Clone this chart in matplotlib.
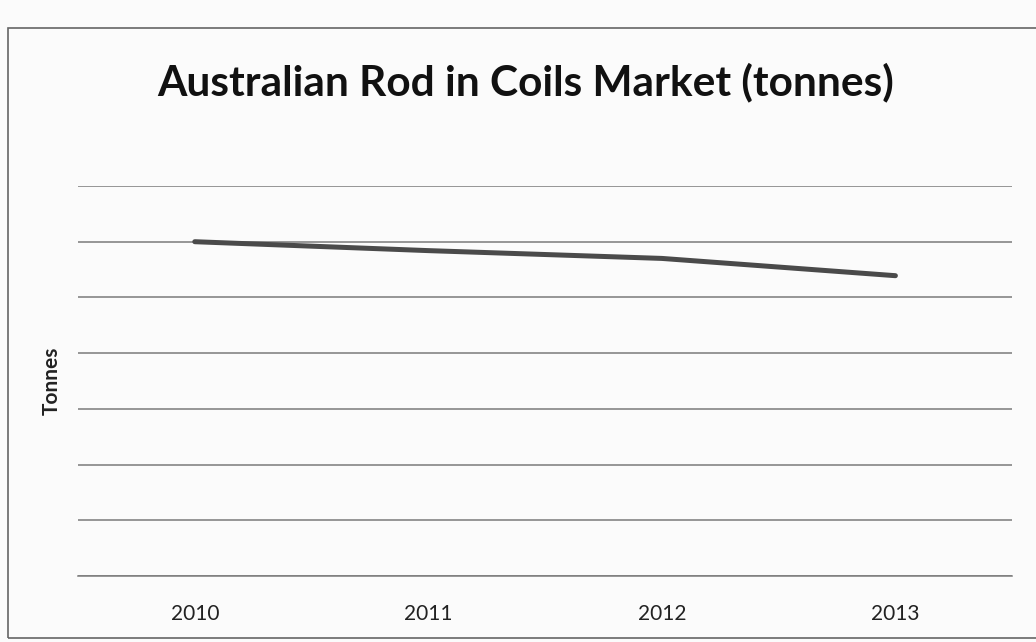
import matplotlib as mpl
import matplotlib.pyplot as plt
import numpy as np
from matplotlib.patches import Rectangle

mpl.use("Agg")
plt.rcParams["font.family"] = ["Lato", "DejaVu Sans"]

years = ["2010", "2011", "2012", "2013"]
tonnes = [600000, 584000, 570000, 539000]
y_ticks = [0, 100000, 200000, 300000, 400000, 500000, 600000, 700000]

fig = plt.figure(figsize=(10.36, 6.42), dpi=100, facecolor="#fbfbfb")
ax = fig.add_axes([0.0753, 0.1028, 0.9017, 0.6075])
ax.set_facecolor("none")

x = np.arange(len(years))
ax.plot(x, tonnes, color="#4a4a4a", linewidth=3.6, solid_capstyle="round")

ax.set_xlim(-0.5, len(years) - 0.5)
ax.set_ylim(0, 700000)
ax.set_yticks(y_ticks)
ax.set_yticklabels([])
ax.set_xticks(x)
ax.set_xticklabels(years, fontsize=15, color="#222222")
ax.tick_params(axis="both", length=0)
ax.tick_params(axis="x", pad=20)
ax.grid(axis="y", color="#7a7a7a", linewidth=1.1)
for s in ["top", "right", "left"]:
    ax.spines[s].set_visible(False)
ax.spines["bottom"].set_color("#7a7a7a")
ax.spines["bottom"].set_linewidth(1.1)

ax.set_ylabel("Tonnes", fontsize=15, fontweight="bold", color="#222222", labelpad=8)
fig.text(0.507, 0.872, "Australian Rod in Coils Market (tonnes)", ha="center", va="center",
         fontsize=30.5, fontweight="bold", color="#111111")

# chart area border
fig.patches.append(Rectangle((8 / 1036, 4 / 642), 1.02, 610 / 642, transform=fig.transFigure,
                             fill=False, edgecolor="#666666", linewidth=1.2))

fig.savefig("out.png", dpi=100, facecolor=fig.get_facecolor())
plt.close(fig)
